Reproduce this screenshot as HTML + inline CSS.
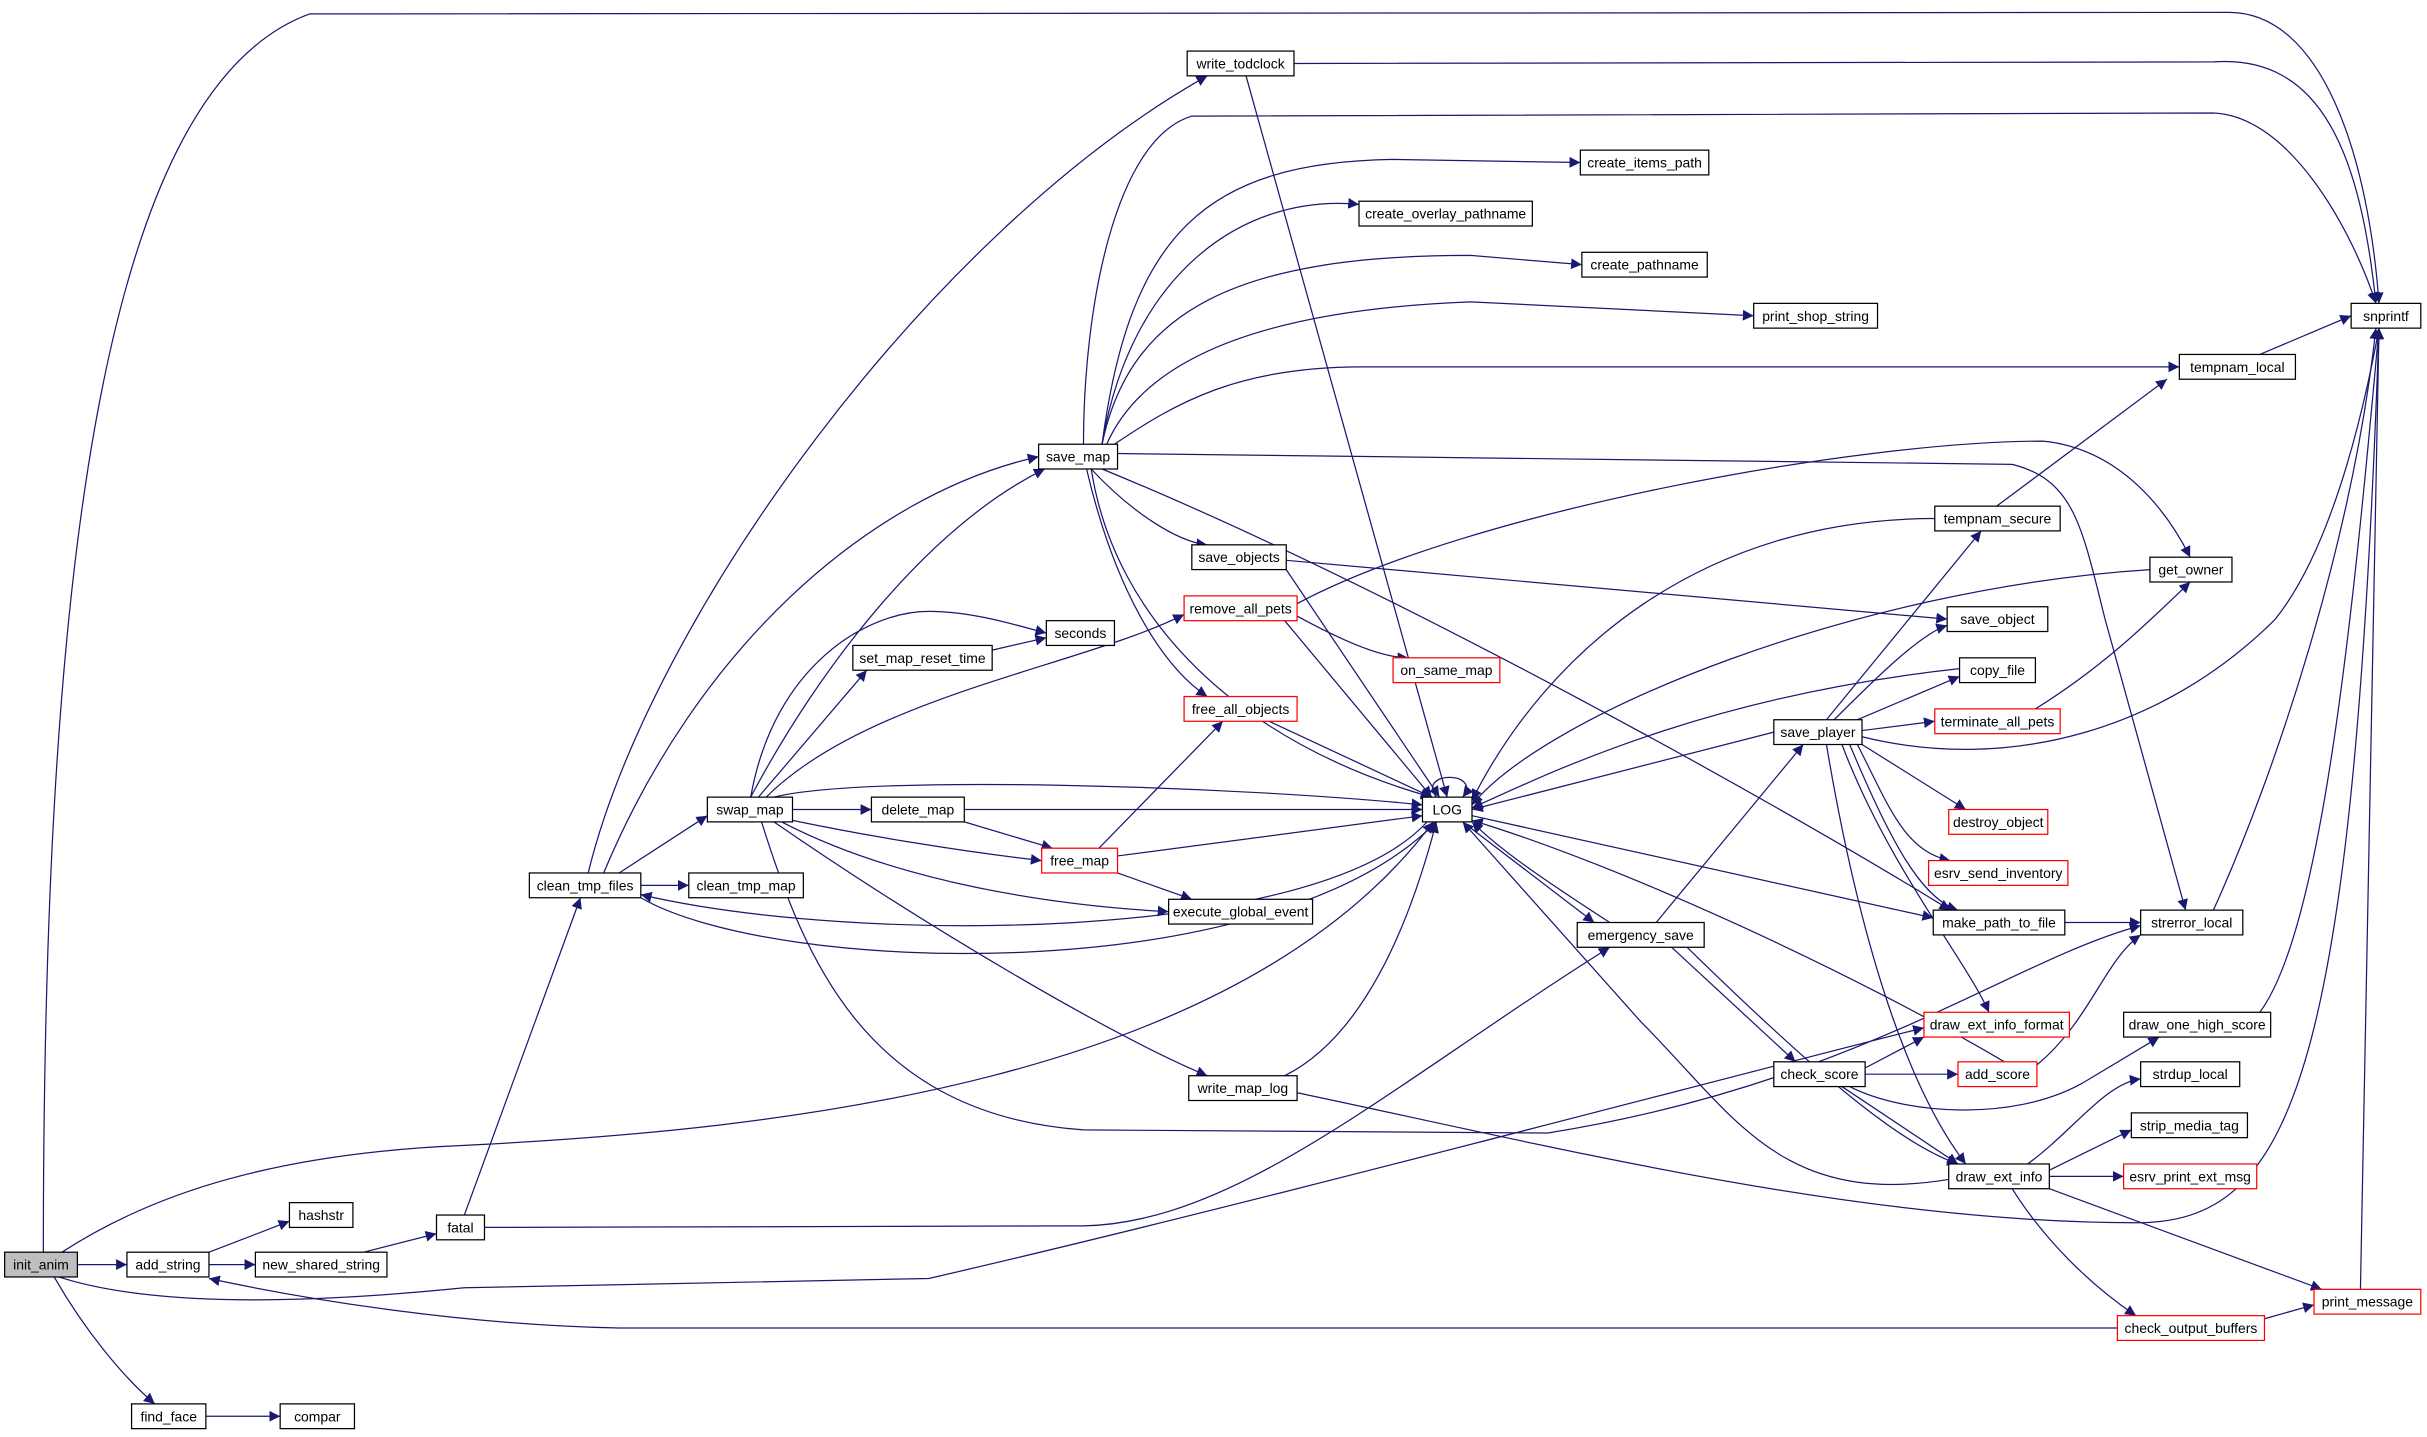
<!DOCTYPE html>
<html><head><meta charset="utf-8"><style>
html,body{margin:0;padding:0;background:#fff}
svg{display:block}
text{font-family:"Liberation Sans",sans-serif;font-size:9px;text-anchor:middle;dominant-baseline:central;fill:#000}
.e{fill:none;stroke:#191970;stroke-width:0.8}
.n{fill:#fff;stroke:#000;stroke-width:0.8}
.r{fill:#fff;stroke:#f00;stroke-width:0.8}
</style></head><body>
<svg width="2427" height="1437" viewBox="0 0 1568 928.4" xmlns="http://www.w3.org/2000/svg">
<defs><marker id="a" markerUnits="userSpaceOnUse" markerWidth="8" markerHeight="8" refX="7" refY="3.5" orient="auto"><path d="M0,0 L7,3.5 L0,7 z" fill="#191970"/></marker></defs>
<g class="e" marker-end="url(#a)">
<path d="M28,809 C28,400 60,60 200,9 L1440,8 C1500,8 1530,100 1537,196"/>
<path d="M50,817 L82,817"/>
<path d="M35,825 C55,860 80,890 100,907"/>
<path d="M40,809 C100,770 180,745 300,740 C500,730 800,700 926,531"/>
<path d="M38,825 C100,845 200,842 300,832 L600,826 C800,780 1100,700 1243,664"/>
<path d="M135,809 L187,789"/>
<path d="M135,817 L165,817"/>
<path d="M1368,858 L400,858 C300,856 200,840 135,826"/>
<path d="M235,809 L282,797"/>
<path d="M133,915 L181,915"/>
<path d="M300,785 L375,580"/>
<path d="M313,793 L700,792 C800,790 900,700 1040,612"/>
<path d="M380,564 C420,400 600,150 780,49"/>
<path d="M390,564 C450,420 560,320 671,295"/>
<path d="M400,564 L457,527"/>
<path d="M414,572 L445,572"/>
<path d="M414,580 C500,630 820,640 928,531"/>
<path d="M922,531 C850,610 550,610 414,578"/>
<path d="M485,515 C530,430 600,340 675,303"/>
<path d="M485,515 C500,430 560,395 600,395 C630,395 660,405 676,409"/>
<path d="M490,515 L560,433"/>
<path d="M495,515 C560,450 700,430 765,397"/>
<path d="M500,515 C560,500 800,508 919,520"/>
<path d="M512,523 L563,523"/>
<path d="M512,530 C560,540 620,550 673,556"/>
<path d="M505,531 C580,570 680,585 755,589"/>
<path d="M500,531 C600,600 720,670 780,695"/>
<path d="M492,531 C520,620 560,720 700,730 L1000,732 C1200,700 1300,620 1383,598"/>
<path d="M623,523 L919,523"/>
<path d="M623,531 L680,548"/>
<path d="M722,553 L919,527"/>
<path d="M710,548 L790,466"/>
<path d="M722,564 L770,581"/>
<path d="M641,420 L676,412"/>
<path d="M830,695 C880,670 910,600 928,531"/>
<path d="M838,706 C1000,740 1200,790 1380,790 C1480,790 1520,700 1537,212"/>
<path d="M700,287 C700,200 720,90 770,75 L1430,73 C1480,75 1520,150 1535,196"/>
<path d="M712,287 C730,150 780,105 900,103 L1021,105"/>
<path d="M712,287 C730,180 800,125 878,132"/>
<path d="M712,287 C730,200 800,165 950,165 L1022,171"/>
<path d="M715,287 C740,230 820,200 950,195 L1133,204"/>
<path d="M720,287 C760,260 800,237 880,237 L1408,237"/>
<path d="M838,390 C950,330 1200,285 1320,285 C1370,290 1400,330 1415,360"/>
<path d="M722,293 L1300,300 C1340,310 1345,340 1360,400 L1412,588"/>
<path d="M705,303 C730,330 760,350 780,352"/>
<path d="M705,303 C720,400 800,480 925,515"/>
<path d="M702,303 C720,380 750,430 780,450"/>
<path d="M712,303 C900,380 1150,520 1260,588"/>
<path d="M831,362 L1258,400"/>
<path d="M831,368 L930,515"/>
<path d="M838,398 C860,410 890,425 910,425"/>
<path d="M830,401 L925,515"/>
<path d="M820,466 L925,515"/>
<path d="M836,41 L1430,40 C1500,35 1525,100 1535,196"/>
<path d="M805,49 L935,515"/>
<path d="M928,515 C915,498 958,498 945,515"/>
<path d="M945,531 L1030,596"/>
<path d="M1040,596 C1000,570 970,550 951,531"/>
<path d="M1070,596 L1165,481"/>
<path d="M1080,612 L1160,686"/>
<path d="M1090,612 C1180,700 1230,740 1265,752"/>
<path d="M1250,335 C1100,335 1000,420 951,517"/>
<path d="M1290,327 L1400,245"/>
<path d="M1460,229 L1519,204"/>
<path d="M1389,368 C1200,380 1000,460 951,520"/>
<path d="M1266,432 C1100,450 1000,500 951,522"/>
<path d="M1146,473 L951,523"/>
<path d="M1180,465 L1280,343"/>
<path d="M1185,465 C1210,440 1240,410 1258,404"/>
<path d="M1200,465 L1266,437"/>
<path d="M1203,472 L1250,466"/>
<path d="M1203,476 C1300,500 1400,470 1470,400 C1510,350 1530,250 1537,212"/>
<path d="M1203,481 L1270,523"/>
<path d="M1200,481 C1220,520 1230,550 1260,556"/>
<path d="M1195,481 C1220,540 1240,580 1265,588"/>
<path d="M1190,481 C1220,560 1270,620 1285,654"/>
<path d="M1180,481 C1200,600 1230,700 1270,752"/>
<path d="M1315,458 C1360,430 1390,400 1415,376"/>
<path d="M951,527 L1249,593"/>
<path d="M1334,596 L1383,596"/>
<path d="M1295,686 C1200,630 1050,560 951,530"/>
<path d="M1316,688 C1350,660 1360,620 1383,604"/>
<path d="M1259,762 C1150,780 1120,720 1060,660 L945,531"/>
<path d="M1205,690 L1243,670"/>
<path d="M1205,694 L1265,694"/>
<path d="M1195,702 C1230,720 1300,725 1345,700 L1395,670"/>
<path d="M1190,702 L1265,752"/>
<path d="M1460,654 C1500,600 1520,400 1537,212"/>
<path d="M1310,752 C1340,730 1360,700 1383,697"/>
<path d="M1324,756 L1377,730"/>
<path d="M1324,760 L1372,760"/>
<path d="M1300,768 C1320,800 1350,830 1380,850"/>
<path d="M1324,768 L1500,833"/>
<path d="M1463,852 L1495,843"/>
<path d="M1525,833 L1537,212"/>
<path d="M1430,588 C1470,500 1520,350 1535,212"/>
</g>
<g>
<rect x="3" y="809" width="47" height="16" fill="#bfbfbf" stroke="#000" stroke-width="0.8"/><text x="26.5" y="817">init_anim</text>
<rect class="n" x="82" y="809" width="53" height="16"/><text x="108.5" y="817">add_string</text>
<rect class="n" x="187" y="777" width="41" height="16"/><text x="207.5" y="785">hashstr</text>
<rect class="n" x="165" y="809" width="85" height="16"/><text x="207.5" y="817">new_shared_string</text>
<rect class="n" x="282" y="785" width="31" height="16"/><text x="297.5" y="793">fatal</text>
<rect class="n" x="85" y="907" width="48" height="16"/><text x="109" y="915">find_face</text>
<rect class="n" x="181" y="907" width="48" height="16"/><text x="205" y="915">compar</text>
<rect class="n" x="342" y="564" width="72" height="16"/><text x="378" y="572">clean_tmp_files</text>
<rect class="n" x="445" y="564" width="74" height="16"/><text x="482" y="572">clean_tmp_map</text>
<rect class="n" x="457" y="515" width="55" height="16"/><text x="484.5" y="523">swap_map</text>
<rect class="n" x="563" y="515" width="60" height="16"/><text x="593" y="523">delete_map</text>
<rect class="r" x="673" y="548" width="49" height="16"/><text x="697.5" y="556">free_map</text>
<rect class="n" x="755" y="581" width="93" height="16"/><text x="801.5" y="589">execute_global_event</text>
<rect class="n" x="768" y="695" width="70" height="16"/><text x="803" y="703">write_map_log</text>
<rect class="n" x="551" y="417" width="90" height="16"/><text x="596" y="425">set_map_reset_time</text>
<rect class="n" x="676" y="401" width="44" height="16"/><text x="698" y="409">seconds</text>
<rect class="r" x="765" y="385" width="73" height="16"/><text x="801.5" y="393">remove_all_pets</text>
<rect class="r" x="765" y="450" width="73" height="16"/><text x="801.5" y="458">free_all_objects</text>
<rect class="n" x="770" y="352" width="61" height="16"/><text x="800.5" y="360">save_objects</text>
<rect class="n" x="671" y="287" width="51" height="16"/><text x="696.5" y="295">save_map</text>
<rect class="r" x="900" y="425" width="69" height="16"/><text x="934.5" y="433">on_same_map</text>
<rect class="n" x="767" y="33" width="69" height="16"/><text x="801.5" y="41">write_todclock</text>
<rect class="n" x="1021" y="97" width="83" height="16"/><text x="1062.5" y="105">create_items_path</text>
<rect class="n" x="878" y="130" width="112" height="16"/><text x="934" y="138">create_overlay_pathname</text>
<rect class="n" x="1022" y="163" width="81" height="16"/><text x="1062.5" y="171">create_pathname</text>
<rect class="n" x="1133" y="196" width="80" height="16"/><text x="1173" y="204">print_shop_string</text>
<rect class="n" x="1408" y="229" width="75" height="16"/><text x="1445.5" y="237">tempnam_local</text>
<rect class="n" x="1519" y="196" width="45" height="16"/><text x="1541.5" y="204">snprintf</text>
<rect class="n" x="919" y="515" width="32" height="16"/><text x="935" y="523">LOG</text>
<rect class="n" x="1250" y="327" width="81" height="16"/><text x="1290.5" y="335">tempnam_secure</text>
<rect class="n" x="1389" y="360" width="53" height="16"/><text x="1415.5" y="368">get_owner</text>
<rect class="n" x="1258" y="392" width="65" height="16"/><text x="1290.5" y="400">save_object</text>
<rect class="n" x="1266" y="425" width="49" height="16"/><text x="1290.5" y="433">copy_file</text>
<rect class="n" x="1146" y="465" width="57" height="16"/><text x="1174.5" y="473">save_player</text>
<rect class="r" x="1250" y="458" width="81" height="16"/><text x="1290.5" y="466">terminate_all_pets</text>
<rect class="r" x="1259" y="523" width="64" height="16"/><text x="1291" y="531">destroy_object</text>
<rect class="r" x="1246" y="556" width="90" height="16"/><text x="1291" y="564">esrv_send_inventory</text>
<rect class="n" x="1249" y="588" width="85" height="16"/><text x="1291.5" y="596">make_path_to_file</text>
<rect class="n" x="1383" y="588" width="66" height="16"/><text x="1416" y="596">strerror_local</text>
<rect class="n" x="1019" y="596" width="82" height="16"/><text x="1060" y="604">emergency_save</text>
<rect class="r" x="1243" y="654" width="94" height="16"/><text x="1290" y="662">draw_ext_info_format</text>
<rect class="n" x="1146" y="686" width="59" height="16"/><text x="1175.5" y="694">check_score</text>
<rect class="r" x="1265" y="686" width="51" height="16"/><text x="1290.5" y="694">add_score</text>
<rect class="n" x="1372" y="654" width="95" height="16"/><text x="1419.5" y="662">draw_one_high_score</text>
<rect class="n" x="1383" y="686" width="64" height="16"/><text x="1415" y="694">strdup_local</text>
<rect class="n" x="1377" y="719" width="75" height="16"/><text x="1414.5" y="727">strip_media_tag</text>
<rect class="n" x="1259" y="752" width="65" height="16"/><text x="1291.5" y="760">draw_ext_info</text>
<rect class="r" x="1372" y="752" width="86" height="16"/><text x="1415" y="760">esrv_print_ext_msg</text>
<rect class="r" x="1368" y="850" width="95" height="16"/><text x="1415.5" y="858">check_output_buffers</text>
<rect class="r" x="1495" y="833" width="69" height="16"/><text x="1529.5" y="841">print_message</text>
</g>
</svg>
</body></html>
